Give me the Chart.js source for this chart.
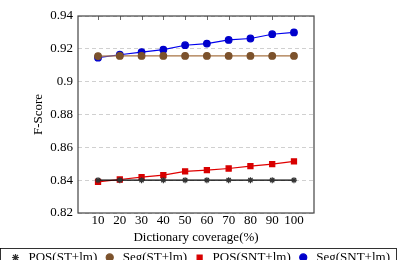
<!DOCTYPE html>
<html>
<head>
<meta charset="utf-8">
<script src="https://cdn.jsdelivr.net/npm/chart.js@4"></script>
<style>
  html, body { margin: 0; padding: 0; background: #fff; overflow: hidden; }
  #wrap { width: 399px; height: 260px; overflow: hidden; }
</style>
</head>
<body>
<div id="wrap"><canvas id="chart" width="399" height="274"></canvas></div>
<script>
const coverage = [10, 20, 30, 40, 50, 60, 70, 80, 90, 100];
const posST = [0.84, 0.84, 0.84, 0.84, 0.84, 0.84, 0.84, 0.84, 0.84, 0.84];
const segST = [0.9156, 0.9157, 0.9157, 0.9157, 0.9157, 0.9157, 0.9157, 0.9157, 0.9157, 0.9157];
const posSNT = [0.839, 0.8404, 0.8418, 0.8431, 0.8453, 0.8461, 0.8471, 0.8486, 0.8498, 0.8514];
const segSNT = [0.9146, 0.9164, 0.918, 0.9195, 0.9222, 0.9232, 0.9254, 0.9263, 0.9289, 0.930];
const yTicks = [0.82, 0.84, 0.86, 0.88, 0.9, 0.92, 0.94];

const serif = "'Liberation Serif', 'DejaVu Serif', serif";

function points(values) {
  return coverage.map((x, i) => ({ x: x, y: values[i] }));
}

// frame around the plot, inner ticks on top, box around the legend
const framePlugin = {
  id: "frame",
  afterDraw(chart) {
    const { ctx, chartArea: a, scales } = chart;
    ctx.save();
    ctx.strokeStyle = "#444";
    ctx.lineWidth = 1.2;
    ctx.strokeRect(a.left, a.top, a.right - a.left, a.bottom - a.top);
    ctx.lineWidth = 0.8;
    ctx.beginPath();
    coverage.forEach((v) => {
      const x = Math.round(scales.x.getPixelForValue(v)) + 0.5;
      ctx.moveTo(x, a.top);
      ctx.lineTo(x, a.top + 4);
    });
    ctx.stroke();
    const lg = chart.legend;
    ctx.strokeStyle = "#000";
    ctx.lineWidth = 0.8;
    ctx.strokeRect(0.5, Math.round(lg.top) + 3.5, 396, lg.height);
    ctx.restore();
  },
};

new Chart(document.getElementById("chart").getContext("2d"), {
  type: "line",
  data: {
    datasets: [
      {
        label: "POS(ST+lm)",
        data: points(posST),
        borderColor: "#000",
        backgroundColor: "#000",
        pointStyle: "star",
        pointRadius: 3,
        pointBorderColor: "#333",
        borderWidth: 1.2,
      },
      {
        label: "Seg(ST+lm)",
        data: points(segST),
        borderColor: "#a87444",
        backgroundColor: "#7c522c",
        pointBackgroundColor: "#7c522c",
        pointBorderColor: "#7c522c",
        pointStyle: "circle",
        pointRadius: 3.3,
        borderWidth: 1.2,
      },
      {
        label: "POS(SNT+lm)",
        data: points(posSNT),
        borderColor: "#e00000",
        backgroundColor: "#d80000",
        pointBackgroundColor: "#d80000",
        pointBorderColor: "#d80000",
        pointStyle: "rect",
        pointRadius: 3.6,
        borderWidth: 1.2,
      },
      {
        label: "Seg(SNT+lm)",
        data: points(segSNT),
        borderColor: "#0000ee",
        backgroundColor: "#0000cc",
        pointBackgroundColor: "#0000cc",
        pointBorderColor: "#0000cc",
        pointStyle: "circle",
        pointRadius: 3.3,
        borderWidth: 1.2,
      },
    ],
  },
  options: {
    responsive: false,
    animation: false,
    layout: { padding: { left: 0, right: 0, top: 16, bottom: 0 } },
    plugins: {
      tooltip: { enabled: false },
      legend: {
        position: "bottom",
        labels: {
          usePointStyle: true,
          boxWidth: 13,
          boxHeight: 5,
          padding: 6,
          color: "#000",
          font: { family: serif, size: 13 },
        },
      },
    },
    scales: {
      x: {
        type: "linear",
        min: 0.8,
        max: 109.2,
        afterBuildTicks: (scale) => {
          scale.ticks = coverage.map((v) => ({ value: v }));
        },
        afterFit: (scale) => {
          scale.height = 32;
        },
        grid: { display: false, drawTicks: false },
        border: { display: false },
        ticks: {
          color: "#000",
          padding: 0,
          maxRotation: 0,
          font: { family: serif, size: 13 },
        },
        title: {
          display: true,
          text: "Dictionary coverage(%)",
          color: "#000",
          padding: { top: 2, bottom: 0 },
          font: { family: serif, size: 13 },
        },
      },
      y: {
        min: 0.82,
        max: 0.94,
        afterBuildTicks: (scale) => {
          scale.ticks = yTicks.map((v) => ({ value: v }));
        },
        afterFit: (scale) => {
          scale.width = 78;
        },
        grid: { color: "#c4c4c4", lineWidth: 0.8, drawTicks: false },
        border: { display: false, dash: [4, 3] },
        ticks: {
          color: "#000",
          padding: 5,
          font: { family: serif, size: 13 },
          callback: (v) => String(Number(v.toFixed(2))),
        },
        title: {
          display: true,
          text: "F-Score",
          color: "#000",
          padding: { top: 31, bottom: 0 },
          font: { family: serif, size: 13 },
        },
      },
      // empty axis on the right that only reserves space beside the plot
      yRight: {
        position: "right",
        afterFit: (scale) => {
          scale.width = 85;
        },
        grid: { display: false, drawTicks: false },
        border: { display: false },
        ticks: { display: false },
      },
    },
  },
  plugins: [framePlugin],
});
</script>
</body>
</html>
